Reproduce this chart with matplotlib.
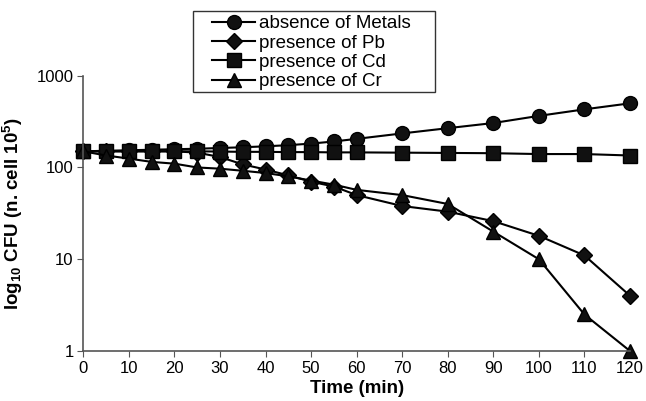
import numpy as np
import matplotlib.pyplot as plt
from matplotlib.patches import Rectangle

plt.rcParams['font.family'] = ['Liberation Sans', 'DejaVu Sans']
plt.rcParams['mathtext.fontset'] = 'custom'
plt.rcParams['mathtext.rm'] = 'Liberation Sans'
plt.rcParams['mathtext.bf'] = 'Liberation Sans:bold'
plt.rcParams['mathtext.default'] = 'bf'

time = [0, 5, 10, 15, 20, 25, 30, 35, 40, 45, 50, 55, 60, 70, 80, 90, 100, 110, 120]
no_metal = [150, 152, 154, 156, 158, 160, 163, 166, 170, 175, 182, 192, 205, 235, 268, 305, 365, 430, 500]
pb = [150, 150, 150, 150, 150, 145, 130, 108, 95, 82, 70, 62, 50, 38, 33, 26, 18, 11, 4]
cd = [150, 150, 150, 150, 150, 150, 149, 148, 148, 147, 147, 146, 146, 145, 144, 143, 140, 140, 135]
cr = [150, 135, 125, 115, 110, 100, 97, 92, 87, 80, 72, 65, 57, 50, 40, 20, 10, 2.5, 1]
labels = ['absence of Metals', 'presence of Pb', 'presence of Cd', 'presence of Cr']

W, H = 646, 401
fig = plt.figure(figsize=(W / 100, H / 100), dpi=100)
x0, x1, y0, y1 = 83.3, 630, 75.7, 351
ax = fig.add_axes([x0 / W, 1 - y1 / H, (x1 - x0) / W, (y1 - y0) / H])

ms = 10
lw = 1.5
ax.plot(time, no_metal, '-o', color='black', mfc='#111111', lw=lw, ms=ms, label=labels[0])
ax.plot(time, pb, '-D', color='black', mfc='#111111', lw=lw, ms=ms * 0.8, label=labels[1])
ax.plot(time, cd, '-s', color='black', mfc='#111111', lw=lw, ms=ms * 0.95, label=labels[2])
ax.plot(time, cr, '-^', color='black', mfc='#111111', lw=lw, ms=ms * 1.05, label=labels[3])

ax.set_yscale('log')
ax.set_ylim(1, 1000)
ax.set_xlim(0, 120)
ax.set_xticks(range(0, 121, 10))
ax.set_yticks([1, 10, 100, 1000])
ax.set_yticklabels(['1', '10', '100', '1000'])
ax.minorticks_off()
ax.tick_params(direction='out', labelsize=12, length=4, color='#555555', pad=3)
ax.spines['top'].set_visible(False)
ax.spines['right'].set_visible(False)
for s in ['left', 'bottom']:
    ax.spines[s].set_color('#555555')
    ax.spines[s].set_linewidth(1.2)
for l in ax.lines:
    l.set_clip_on(False)

ax.set_xlabel('Time (min)', fontsize=13.5, fontweight='bold')
ax.xaxis.set_label_coords(0.5, (y1 - 380) / (y1 - y0))
ax.set_ylabel(r'log$_{10}$ CFU (n. cell 10$^{5}$)', fontsize=13.5, fontweight='bold')
ax.yaxis.set_label_coords((25 - x0) / (x1 - x0), 0.5)

# legend box drawn by hand, legend placed inside without frame
lx0, lx1, ly0, ly1 = 193, 435, 11, 92
fig.patches.append(Rectangle((lx0 / W, 1 - ly1 / H), (lx1 - lx0) / W, (ly1 - ly0) / H,
                             transform=fig.transFigure, fill=True, facecolor='white',
                             edgecolor='#333333', lw=1.0, zorder=5))
leg = fig.legend(loc='upper left', bbox_to_anchor=(212 / W, 1 - 15 / H), fontsize=13.5,
                 frameon=False, handlelength=2.3, handletextpad=0.2,
                 labelspacing=0.12, borderpad=0, borderaxespad=0)
leg.set_zorder(6)

fig.savefig('out.png', dpi=100)
